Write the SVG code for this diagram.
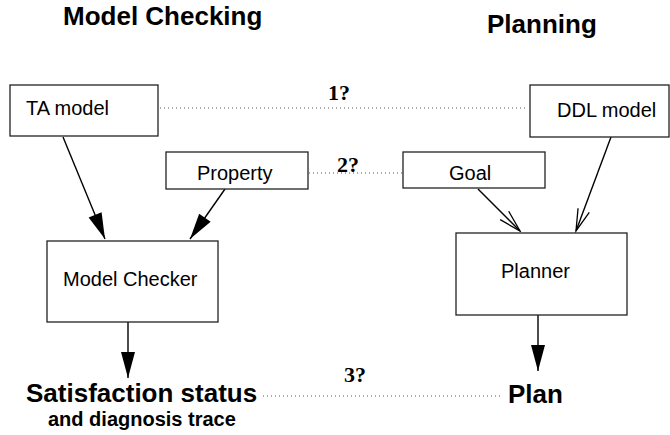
<svg xmlns="http://www.w3.org/2000/svg" width="670" height="435" viewBox="0 0 670 435">
<style>
.box{fill:#fff;stroke:#222;stroke-width:1.3}
.lbl{font-family:"Liberation Sans",Arial,sans-serif;font-size:20px;fill:#000}
.title{font-family:"Liberation Sans",Arial,sans-serif;font-weight:bold;font-size:26px;fill:#000}
.sub{font-family:"Liberation Sans",Arial,sans-serif;font-weight:bold;font-size:20px;fill:#000}
.q{font-family:"Liberation Serif","Times New Roman",serif;font-weight:bold;font-size:22px;fill:#000}
.dot{stroke:#555;stroke-width:1;stroke-dasharray:1 3;fill:none}
.arr{stroke:#000;stroke-width:1.4;fill:none}
</style>
<defs>
<marker id="fill" markerUnits="userSpaceOnUse" viewBox="-28 -8 30 16" refX="0" refY="0" markerWidth="30" markerHeight="16" orient="auto">
<path d="M0,0 L-26,-7 L-26,7 Z" fill="#000"/>
</marker>
<marker id="open" markerUnits="userSpaceOnUse" viewBox="-26 -8 28 16" refX="0" refY="0" markerWidth="28" markerHeight="16" orient="auto">
<path d="M-22,-6 L0,0 L-22,6" fill="none" stroke="#000" stroke-width="1.3"/>
</marker>
</defs>
<text class="title" x="63" y="25">Model Checking</text>
<text class="title" x="487" y="33">Planning</text>
<g id="connectors">
<line class="dot" x1="160" y1="108" x2="528" y2="108"/>
<line class="dot" x1="309" y1="173" x2="402" y2="173"/>
<line class="dot" x1="263" y1="396" x2="502" y2="396"/>
<line class="arr" x1="63" y1="137" x2="105" y2="239" marker-end="url(#fill)"/>
<line class="arr" x1="225" y1="189" x2="190" y2="239" marker-end="url(#fill)"/>
<line class="arr" x1="128" y1="322" x2="128" y2="378" marker-end="url(#fill)"/>
<line class="arr" x1="538" y1="315" x2="538" y2="371" marker-end="url(#fill)"/>
<line class="arr" x1="478" y1="189" x2="520" y2="231" marker-end="url(#open)"/>
<line class="arr" x1="611" y1="137" x2="576" y2="231" marker-end="url(#open)"/>
<text class="q" x="328" y="100">1?</text>
<text class="q" x="337" y="172">2?</text>
<text class="q" x="344" y="382">3?</text>
</g>
<g id="ta-model"><rect class="box" x="10" y="85" width="148" height="51"/><text class="lbl" x="26" y="115">TA model</text></g>
<g id="ddl-model"><rect class="box" x="530" y="85" width="139" height="52"/><text class="lbl" x="557" y="117">DDL model</text></g>
<g id="property"><rect class="box" x="166" y="152" width="142" height="37"/><text class="lbl" x="197" y="180">Property</text></g>
<g id="goal"><rect class="box" x="403" y="152" width="142" height="36"/><text class="lbl" x="449" y="180">Goal</text></g>
<g id="model-checker"><rect class="box" x="47" y="241" width="171" height="81"/><text class="lbl" x="63" y="286">Model Checker</text></g>
<g id="planner"><rect class="box" x="456" y="233" width="171" height="82"/><text class="lbl" x="501" y="278">Planner</text></g>
<g id="satisfaction"><text class="title" x="26" y="402">Satisfaction status</text><text class="sub" x="48" y="426">and diagnosis trace</text></g>
<g id="plan"><text class="title" x="508" y="403">Plan</text></g>
</svg>
